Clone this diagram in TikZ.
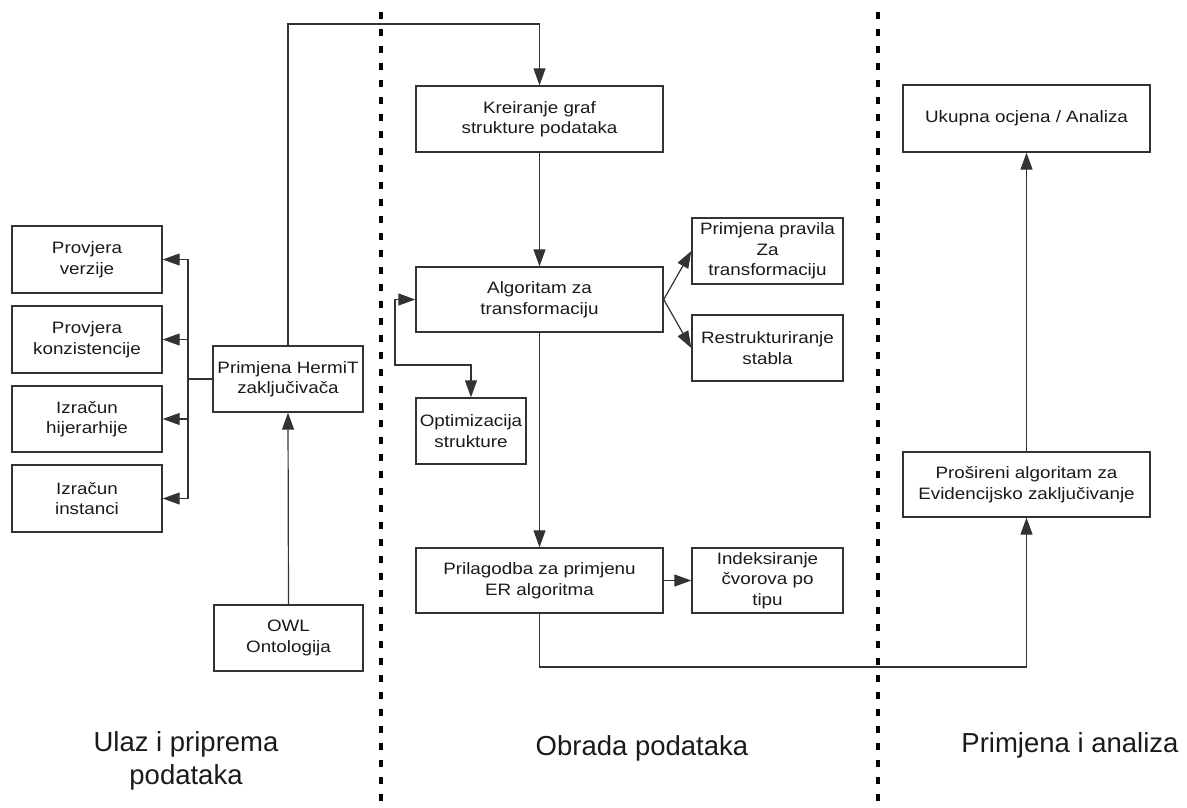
\documentclass[tikz,border=0pt]{standalone}
\usepackage{fontspec}
\setmainfont{Liberation Sans}
\newfontfamily\boxfont{Liberation Sans}[FakeStretch=1.14]
\usetikzlibrary{arrows.meta}
\definecolor{edge}{HTML}{333333}
\definecolor{txt}{HTML}{1A1A1A}
\tikzset{
  box/.style={draw=edge, line width=1.4pt, fill=white, inner sep=0pt, align=center,
    text=txt, font=\boxfont\fontsize{16.5}{20.5}\selectfont},
  conn/.style={draw=edge, line width=1.2pt},
  tip/.style={-{Triangle[length=17pt,width=12pt]}},
  arr/.style={conn, tip},
  arrb/.style={conn, {Triangle[length=17pt,width=12pt]}-{Triangle[length=17pt,width=12pt]}},
  sep/.style={line width=3.6pt, dash pattern=on 7pt off 10pt, black},
  lbl/.style={text=txt, font=\fontsize{27.5}{33}\selectfont, align=center}
}
\begin{document}
\begin{tikzpicture}[x=1pt,y=-1pt]
\useasboundingbox (0,0) rectangle (1187,807);
% separators
\draw[sep] (381,12) -- (381,807);
\draw[sep] (878,12) -- (878,807);
% left column
\node[box, minimum width=150pt, minimum height=67pt] (pv) at (87,259.5) {Provjera\\verzije};
\node[box, minimum width=150pt, minimum height=67pt] (pk) at (87,339.5) {Provjera\\konzistencije};
\node[box, minimum width=150pt, minimum height=66pt] (ih) at (87,419) {Izračun\\hijerarhije};
\node[box, minimum width=150pt, minimum height=67pt] (ii) at (87,498.5) {Izračun\\instanci};
\node[box, minimum width=150pt, minimum height=66pt] (herm) at (288,379) {Primjena HermiT\\zaključivača};
\node[box, minimum width=149pt, minimum height=66pt] (owl) at (288.5,638) {OWL\\Ontologija};
% middle column
\node[box, minimum width=247pt, minimum height=66pt] (kre) at (539.5,119) {Kreiranje graf\\strukture podataka};
\node[box, minimum width=247pt, minimum height=65pt] (alg) at (539.5,299.5) {Algoritam za\\transformaciju};
\node[box, minimum width=151pt, minimum height=66pt] (ppr) at (767.5,251) {Primjena pravila\\Za\\transformaciju};
\node[box, minimum width=151pt, minimum height=66pt] (res) at (767.5,348) {Restrukturiranje\\stabla};
\node[box, minimum width=110pt, minimum height=66pt] (opt) at (471,431) {Optimizacija\\strukture};
\node[box, minimum width=247pt, minimum height=65pt] (pri) at (539.5,580.5) {Prilagodba za primjenu\\ER algoritma};
\node[box, minimum width=151pt, minimum height=65pt] (ind) at (767.5,580.5) {Indeksiranje\\čvorova po\\tipu};
% right column
\node[box, minimum width=247pt, minimum height=67pt] (uk) at (1026.5,118.5) {Ukupna ocjena / Analiza};
\node[box, minimum width=247pt, minimum height=65pt] (pro) at (1026.5,484.5) {Prošireni algoritam za\\Evidencijsko zaključivanje};
% connectors
\coordinate (bus) at (188,379);
\draw[conn] (herm.west) -- (bus);
\draw[arr] (bus) |- (pv.east);
\draw[arr] (bus) |- (pk.east);
\draw[arr] (bus) |- (ih.east);
\draw[arr] (bus) |- (ii.east);
\draw[arr] (owl.north) -- (herm.south);
\coordinate (top) at (539.5,24);
\draw[arr] (herm.north) |- (top) -- (kre.north);
\draw[arr] (kre.south) -- (alg.north);
\draw[arr] (alg.east) -- (ppr.west);
\draw[arr] (alg.east) -- (res.west);
\coordinate (lp) at (395,365);
\draw[arrb] (alg.west) -| (lp) -| (opt.north);
\draw[arr] (alg.south) -- (pri.north);
\draw[arr] (pri.east) -- (ind.west);
\coordinate (bot) at (539.5,667);
\draw[arr] (pri.south) -- (bot) -| (pro.south);
\draw[arr] (pro.north) -- (uk.south);
% section labels
\node[lbl] (l1) at (186,761) {Ulaz i priprema\\podataka};
\node[lbl] (l2) at (642,748) {Obrada podataka};
\node[lbl] (l3) at (1070,745) {Primjena i analiza};
\end{tikzpicture}
\end{document}
